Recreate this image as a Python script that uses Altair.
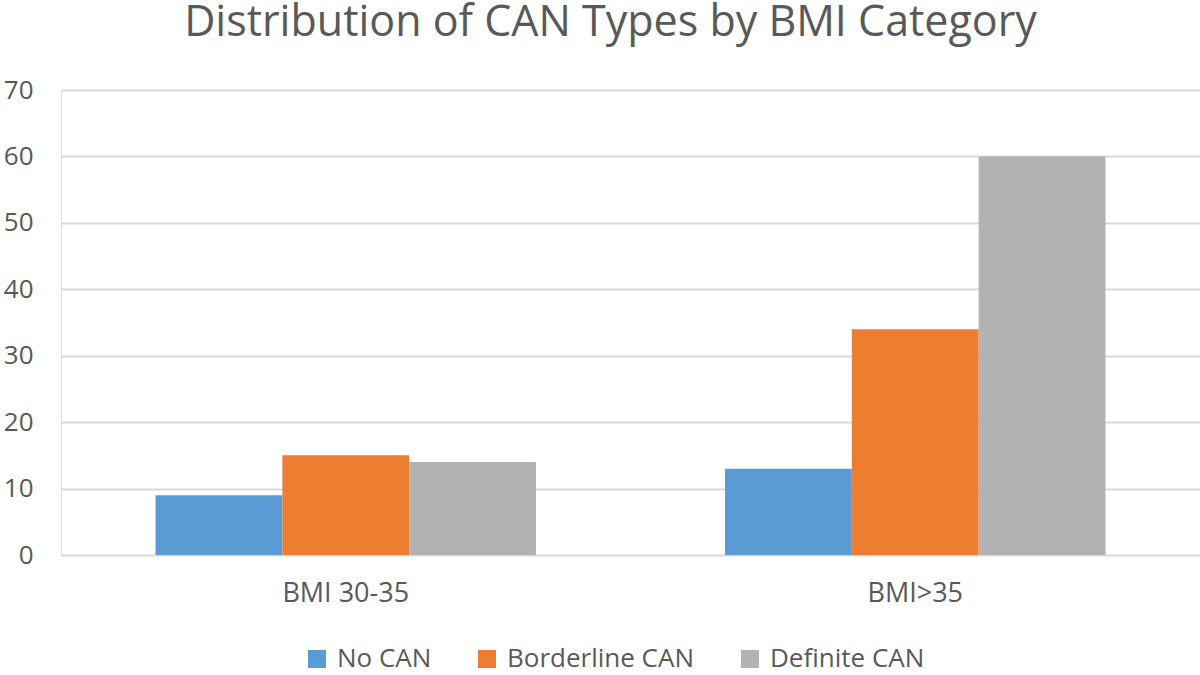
import altair as alt
import pandas as pd

# Patient counts per BMI group and CAN classification
categories = ["BMI 30-35", "BMI>35"]
series = ["No CAN", "Borderline CAN", "Definite CAN"]
no_can = [9, 13]
borderline_can = [15, 34]
definite_can = [14, 60]
colors = ["#5B9BD5", "#ED7D31", "#B2B2B2"]

rows = []
for i, cat in enumerate(categories):
    for name, vals in zip(series, [no_can, borderline_can, definite_can]):
        rows.append({"category": cat, "type": name, "count": vals[i]})
df = pd.DataFrame(rows)

font = "Open Sans"
grey = "#595959"

chart = (
    alt.Chart(df)
    .mark_bar()
    .encode(
        x=alt.X(
            "category:N",
            sort=categories,
            title=None,
            scale=alt.Scale(paddingInner=0.332, paddingOuter=0.166),
            axis=alt.Axis(
                labelAngle=0,
                labelFontSize=27,
                labelColor=grey,
                labelFont=font,
                labelPadding=25,
                domain=False,
                ticks=False,
            ),
        ),
        xOffset=alt.XOffset("type:N", sort=series, scale=alt.Scale(paddingInner=0, paddingOuter=0)),
        y=alt.Y(
            "count:Q",
            title=None,
            scale=alt.Scale(domain=[0, 70]),
            axis=alt.Axis(
                values=list(range(0, 71, 10)),
                labelFontSize=26,
                labelColor=grey,
                labelFont=font,
                labelPadding=28,
                domain=False,
                ticks=False,
                gridColor="#D9D9D9",
                gridWidth=2,
            ),
        ),
        color=alt.Color(
            "type:N",
            sort=series,
            scale=alt.Scale(domain=series, range=colors),
            legend=alt.Legend(
                title=None,
                orient="none",
                legendX=243,
                legendY=556,
                direction="horizontal",
                symbolType="square",
                symbolSize=324,
                symbolStrokeWidth=0,
                labelFontSize=26,
                labelColor=grey,
                labelFont=font,
                labelLimit=400,
                labelOffset=7,
                columnPadding=42,
                symbolOffset=0,
            ),
        ),
    )
    .properties(
        width=1139,
        height=465,
        padding={"left": 61, "top": 90, "right": 0, "bottom": 120},
        autosize=alt.AutoSizeParams(type="none"),
        title=alt.TitleParams(
            "Distribution of CAN Types by BMI Category",
            fontSize=43,
            font=font,
            fontWeight="normal",
            color=grey,
            anchor="middle",
            frame="group",
            dx=-20,
            offset=32,
        ),
    )
    .configure_view(strokeWidth=0)
    .configure(background="white")
)

chart.save("out.html", embed_options={"renderer": "svg", "actions": False})
